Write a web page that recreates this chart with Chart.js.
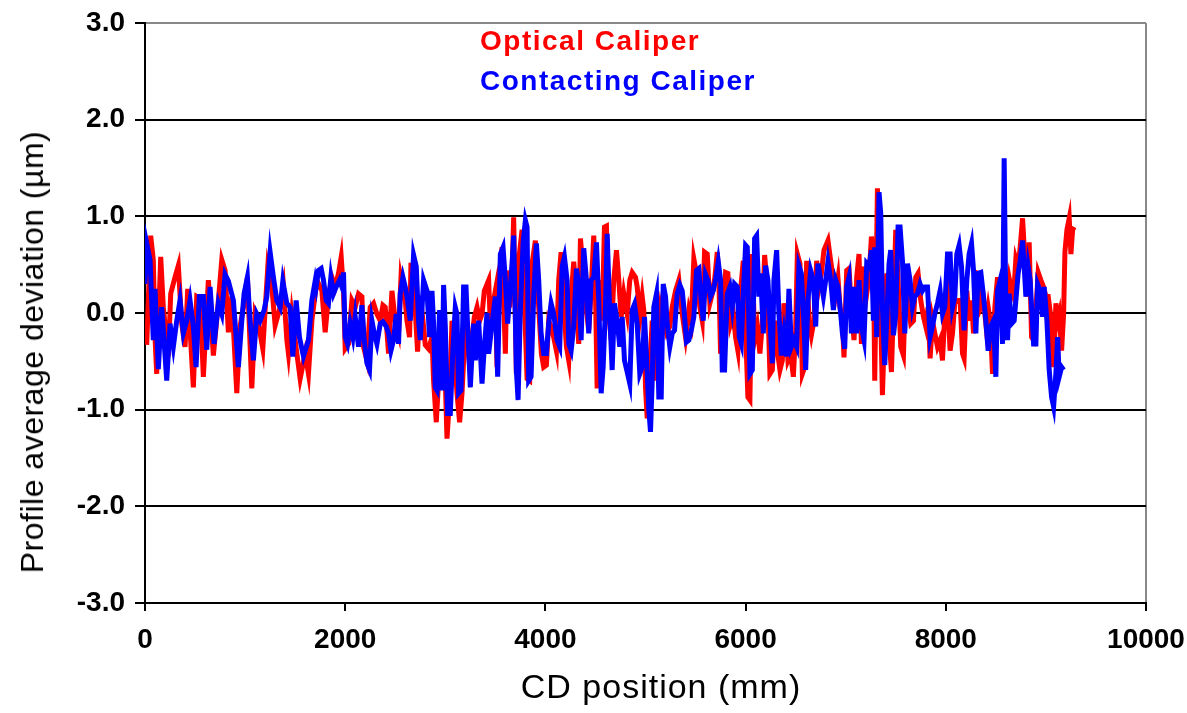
<!DOCTYPE html>
<html>
<head>
<meta charset="utf-8">
<script src="https://cdn.jsdelivr.net/npm/chart.js@4.4.1/dist/chart.umd.min.js"></script>
<style>
  body { margin: 0; background: #fff; }
  #wrap { position: relative; width: 1187px; height: 713px; font-family: "Liberation Sans", Arial, sans-serif; }
  #myChart { position: absolute; left: 0; top: 0; }
  .leg { position: absolute; left: 480px; font-size: 28px; line-height: 28px; font-weight: bold; letter-spacing: 1.5px; white-space: nowrap; }
  #ytitle { position: absolute; left: 32px; top: 352px; transform: translate(-50%, -50%) rotate(-90deg); font-size: 32px; line-height: 32px; letter-spacing: 0.5px; white-space: nowrap; }
  #xtitle { position: absolute; left: 661px; top: 669px; transform: translateX(-50%); font-size: 34px; line-height: 34px; letter-spacing: 1px; white-space: nowrap; }
</style>
</head>
<body>
<div id="wrap">
  <canvas id="myChart" width="1187" height="713"></canvas>
  <div class="leg" style="top:27px;color:#ff0000">Optical Caliper</div>
  <div class="leg" style="top:67px;color:#0000ff">Contacting Caliper</div>
  <div id="ytitle">Profile average deviation (µm)</div>
  <div id="xtitle">CD position (mm)</div>
</div>
<script>
// CD position (mm) and deviation (um)
var opticalX = [17,57,83,100,117,157,183,233,257,300,333,367,400,427,483,517,550,583,633,683,717,767,800,833,867,917,950,983,1023,1067,1100,1133,1177,1200,1227,1267,1300,1350,1383,1417,1433,1467,1517,1550,1600,1633,1667,
  1717,1767,1800,1833,1867,1900,1933,1960,1983,2000,2033,2067,2100,2133,2167,2183,2217,2250,2283,2317,2350,2377,2400,2433,2467,2500,2533,2557,2600,2617,2643,2657,2700,2723,2750,2783,2800,2833,2867,2883,2910,2933,2957,2977,3000,3017,3043,3067,3090,3117,3143,3167,3190,3217,3243,3267,3290,3317,3343,3367,3390,
  3433,3450,3477,3500,3517,3543,3567,3600,3617,3643,3667,3683,3710,3733,3767,3783,3817,3843,3867,3900,3933,3960,3983,4010,4033,4057,4083,4110,4133,4157,4183,4210,4233,4257,4283,4310,4333,4350,4383,4410,4433,4457,4483,4500,4517,4543,4567,4590,4610,4633,4657,4683,4710,4733,4757,4783,4817,4843,4867,4900,4917,4943,4967,4983,5000,5017,5043,5067,5090,
  5117,5150,5183,5210,5243,5267,5300,5333,5367,5400,5433,5457,5483,5517,5543,5567,5590,5617,5643,5667,5690,5717,5733,5750,5777,5800,5823,5850,5877,5900,5923,5950,5977,6000,6023,6043,6067,6090,6117,6143,6167,6190,6217,6243,6267,6290,6317,6343,6367,6383,6400,6423,6450,6477,6500,6517,6543,6567,6590,6610,6633,6657,6683,6710,6733,6757,6783,
  6823,6850,6877,6900,6923,6943,6967,6983,7010,7033,7057,7083,7110,7133,7157,7183,7210,7233,7257,7277,7290,7317,7333,7350,7367,7390,7410,7433,7457,7477,7500,7523,7550,7577,7600,7623,7650,7677,7700,7723,7750,7777,7800,7823,7843,7867,7890,7917,7943,7967,7990,8017,8043,8067,8090,8117,8143,8167,8183,8210,8233,8257,8277,8300,8323,8350,8377,8400,8423,8443,8467,8490,
  8517,8543,8567,8583,8610,8633,8657,8677,8700,8723,8743,8767,8783,8810,8833,8857,8877,8900,8923,8950,8977,9000,9023,9050,9077,9100,9117,9133,9157,9177,9190,9210,9233,9250,9267,9283]
var opticalY = [-0.33,0.80,0.55,-0.25,-0.63,0.58,0.06,-0.45,0.20,0.37,0.49,-0.11,-0.35,0.25,-0.77,0.17,0.15,-0.66,0.34,-0.44,-0.07,0.55,0.44,-0.20,0.17,-0.83,-0.14,0.06,0.37,-0.78,-0.01,-0.11,-0.37,0.03,0.48,0.27,-0.13,0.06,0.27,-0.28,-0.42,-0.01,-0.42,-0.68,-0.42,-0.63,-0.08,
  0.34,0.23,-0.20,0.17,0.37,0.27,0.41,0.58,0.23,-0.37,-0.32,0.13,0.06,0.20,0.17,-0.35,-0.49,0.06,0.10,-0.01,-0.08,0.08,0.06,-0.42,0.23,-0.08,-0.21,0.36,0.13,-0.08,-0.25,0.52,0.03,-0.40,0.18,-0.14,-0.33,-0.37,-0.25,-0.70,-1.13,-0.70,-0.21,-0.08,-0.70,-1.30,-0.87,-0.08,-0.42,-0.83,-1.13,-0.83,-0.35,-0.08,-0.56,-0.25,-0.04,0.06,-0.08,-0.01,0.23,
  0.34,-0.11,0.10,0.23,-0.56,0.44,0.68,-0.42,0.44,0.06,0.41,0.99,-0.63,0.54,0.86,0.34,-0.68,-0.70,0.51,0.75,0.06,-0.42,-0.56,-0.54,-0.08,-0.14,-0.25,-0.39,0.34,0.63,0.10,-0.35,-0.49,0.17,0.53,0.13,-0.32,0.77,0.37,0.03,-0.18,0.23,0.80,0.23,-0.78,0.34,-0.08,0.89,0.90,-0.01,-0.28,0.34,0.65,0.34,-0.04,0.20,-0.01,0.34,0.42,0.37,0.27,-0.04,0.17,0.03,-0.77,-1.09,-0.56,-0.08,-0.70,
  -0.28,0.06,-0.11,-0.21,-0.14,0.06,0.23,0.34,-0.01,-0.25,0.03,-0.08,0.56,0.37,0.06,-0.08,0.63,0.61,0.10,0.20,0.34,0.63,0.34,-0.42,-0.04,0.42,0.41,-0.11,-0.01,-0.25,-0.39,0.23,0.54,-0.18,-0.87,-0.90,0.61,-0.28,-0.14,-0.42,-0.11,0.60,0.27,-0.63,-0.59,-0.08,-0.39,-0.59,-0.49,0.10,-0.11,-0.49,-0.42,-0.66,-0.18,0.61,0.51,-0.63,-0.56,0.54,-0.08,-0.23,-0.08,0.54,0.27,0.41,0.65,
  0.75,0.54,0.34,0.20,0.36,0.06,-0.08,-0.46,0.44,0.46,0.06,-0.28,0.37,0.61,-0.32,0.48,0.20,0.37,0.79,0.61,-0.70,1.29,0.61,-0.04,-0.85,-0.08,0.41,-0.25,-0.61,0.06,0.86,0.34,-0.35,-0.44,0.37,0.10,-0.11,-0.08,0.37,0.41,0.13,-0.04,-0.14,0.06,-0.47,-0.08,-0.21,-0.35,-0.28,-0.49,-0.01,0.17,-0.39,-0.21,0.10,0.13,0.13,-0.42,-0.47,0.23,-0.08,0.13,-0.21,0.42,0.41,0.06,0.13,-0.11,0.06,-0.08,-0.63,0.06,
  0.37,-0.01,-0.08,0.34,0.17,0.36,0.23,0.17,0.56,0.48,0.68,0.98,0.68,0.17,0.73,-0.25,-0.28,0.03,0.42,0.34,0.27,0.17,0.17,-0.04,-0.56,0.10,-0.08,-0.01,-0.39,-0.01,0.63,0.86,0.98,0.61,0.86,0.89]

var contactX = [0,17,50,83,100,133,167,190,217,250,283,317,350,383,417,450,483,510,543,583,617,650,690,733,767,800,833,883,933,967,990,1023,1050,1083,1117,1150,1190,1217,1250,1283,1317,1350,1377,1417,1450,1477,1510,1543,1583,1633,1667,1700,
  1710,1733,1760,1783,1810,1833,1857,1883,1910,1943,1967,1983,2000,2023,2050,2077,2100,2133,2167,2190,2217,2243,2267,2290,2317,2350,2377,2410,2433,2457,2483,2510,2533,2550,2577,2600,2617,2650,2683,2710,2733,2750,2783,2817,2843,2867,2883,2900,2917,2943,2967,2983,3000,3023,3050,3077,3100,3117,3133,3157,3183,3207,3223,3250,3283,3300,3333,3367,3390,
  3417,3433,3467,3500,3523,3550,3577,3600,3623,3643,3667,3683,3710,3727,3750,3777,3800,3817,3833,3857,3883,3910,3933,3957,3983,4010,4033,4057,4083,4117,4143,4167,4190,4217,4233,4257,4283,4310,4333,4357,4383,4410,4433,4457,4483,4510,4533,4557,4577,4600,4617,4643,4667,4690,4717,4743,4767,4790,4817,4843,4867,4890,4917,4943,4967,4990,5010,5033,5050,5067,5083,
  5110,5133,5157,5177,5200,5217,5243,5267,5290,5317,5343,5367,5383,5410,5433,5457,5483,5510,5533,5550,5577,5600,5623,5650,5677,5700,5727,5750,5767,5790,5817,5843,5867,5890,5917,5937,5957,5977,6000,6017,6043,6067,6090,6110,6133,6150,6177,6200,6223,6243,6267,6283,6310,6333,6357,6383,6410,6433,6457,6483,6510,6533,6557,6583,6600,6623,6650,6677,6700,6723,6750,6777,6800,
  6823,6850,6877,6900,6923,6950,6967,6990,7010,7033,7057,7083,7110,7133,7157,7183,7210,7233,7257,7277,7290,7310,7333,7350,7367,7390,7410,7433,7450,7477,7500,7523,7543,7567,7590,7617,7643,7667,7690,7717,7743,7767,7790,7817,7843,7867,7890,7917,7943,7967,7990,8017,8043,8067,8090,8110,8133,8157,8183,8210,8233,8257,8277,8300,8323,8350,8377,8400,8423,8450,8477,8500,
  8517,8543,8567,8583,8600,8617,8633,8657,8683,8700,8723,8743,8767,8783,8800,8823,8843,8857,8877,8900,8917,8943,8967,8983,9010,9033,9057,9077,9100,9117,9133,9157,9177]
var contactY = [0.30,0.72,0.55,-0.28,0.25,-0.58,0.06,-0.28,-0.70,-0.11,-0.35,-0.08,0.13,-0.21,-0.08,0.13,-0.14,-0.56,0.17,0.17,-0.38,0.27,-0.32,0.10,-0.01,0.40,0.33,0.13,-0.56,-0.08,0.20,0.37,-0.08,-0.49,-0.01,-0.08,0.03,0.17,0.63,0.37,0.13,0.06,0.33,0.10,0.06,-0.45,0.13,-0.25,-0.45,-0.28,0.13,0.33,
  0.27,0.44,0.46,0.34,0.13,0.10,0.37,0.20,0.27,0.34,0.27,0.42,-0.25,-0.32,-0.11,-0.25,-0.04,-0.35,0.08,-0.28,-0.52,-0.59,-0.08,-0.21,-0.32,-0.11,-0.09,-0.14,-0.21,-0.39,-0.28,-0.01,-0.32,0.20,0.37,0.27,0.17,-0.08,0.60,0.48,-0.08,-0.28,0.34,0.23,-0.25,0.23,-0.11,-0.77,-0.80,0.03,-0.80,0.29,-0.14,-1.04,-1.04,-0.35,0.06,-0.01,-0.83,-0.80,0.27,0.27,-0.14,-0.77,-0.11,-0.49,-0.08,-0.73,-0.35,
  0.00,-0.42,-0.11,0.17,-0.66,0.61,0.68,0.34,-0.11,0.18,0.51,0.80,-0.59,-0.90,0.03,0.72,0.96,0.89,-0.70,-0.66,0.17,0.72,0.34,-0.21,-0.42,-0.42,-0.11,0.10,-0.01,-0.28,-0.35,0.48,0.58,0.34,-0.32,-0.39,-0.14,0.46,0.30,-0.28,0.67,0.34,-0.21,0.34,0.37,0.73,0.13,-0.83,-0.56,0.06,0.82,-0.01,-0.59,0.10,-0.08,-0.35,-0.04,-0.49,-0.61,-0.73,0.03,0.09,-0.11,-0.63,-0.56,-0.04,-0.45,-1.00,-1.23,-0.70,0.06,
  0.20,-0.87,-0.87,0.30,0.17,-0.11,-0.35,-0.21,-0.18,0.20,0.29,0.23,0.06,-0.30,-0.28,-0.18,-0.04,0.44,0.46,0.20,-0.08,0.40,0.34,0.17,0.23,0.34,0.53,0.34,-0.59,-0.59,0.20,0.27,0.06,0.30,0.27,-0.25,-0.32,0.20,0.70,0.68,-0.63,-0.59,0.77,0.80,0.17,0.41,-0.21,0.49,0.34,-0.08,-0.52,0.34,0.65,-0.01,-0.44,-0.21,-0.45,0.25,-0.35,-0.28,-0.35,0.49,0.41,-0.11,-0.59,0.13,0.44,0.34,-0.14,0.51,0.34,0.17,0.34,
  0.53,0.34,0.03,0.34,0.27,-0.01,-0.21,-0.37,0.27,0.37,-0.21,0.27,-0.21,0.34,-0.14,-0.28,0.51,0.48,0.65,-0.08,0.68,-0.25,1.25,1.03,0.06,-0.54,-0.08,0.51,0.65,-0.23,-0.01,0.89,0.89,0.54,-0.21,0.51,0.34,0.06,0.17,0.20,0.30,0.23,0.27,0.27,-0.25,-0.14,-0.01,0.10,0.23,-0.01,0.06,0.61,0.61,0.06,0.17,0.61,0.70,0.48,-0.18,0.34,0.61,0.72,0.44,-0.21,0.41,0.42,0.17,-0.08,-0.39,-0.14,-0.08,-0.66,
  0.23,0.34,-0.32,1.60,-0.01,-0.28,0.20,-0.11,-0.08,0.13,0.41,0.54,0.75,0.48,0.17,0.48,0.34,0.06,-0.32,-0.32,0.30,0.23,-0.04,0.27,-0.08,-0.59,-0.87,-0.97,-0.62,-0.25,-0.66,-0.56,-0.59]

var xTicks = [0, 2000, 4000, 6000, 8000, 10000]
var yTicks = [-3, -2, -1, 0, 1, 2, 3]

function pts(xs, ys) {
  var out = []
  for (var i = 0; i < xs.length; i++) out.push({ x: xs[i], y: ys[i] })
  return out
}

var tickFont = { family: "'Liberation Sans', Arial, sans-serif", size: 28, weight: 'bold' }

var ctx = document.getElementById('myChart').getContext('2d')
var chart = new Chart(ctx, {
  type: 'line',
  data: {
    datasets: [
      { label: 'Optical Caliper', data: pts(opticalX, opticalY), borderColor: '#ff0000', borderWidth: 5, pointRadius: 0, tension: 0, order: 1 },
      { label: 'Contacting Caliper', data: pts(contactX, contactY), borderColor: '#0000ff', borderWidth: 5, pointRadius: 0, tension: 0, order: 0 }
    ]
  },
  options: {
    responsive: false,
    animation: false,
    layout: { padding: { top: 23, right: 41, left: 0, bottom: 0 } },
    plugins: { legend: { display: false }, tooltip: { enabled: false } },
    scales: {
      x: {
        type: 'linear',
        min: xTicks[0],
        max: xTicks[xTicks.length - 1],
        afterBuildTicks: function (s) { s.ticks = xTicks.map(function (v) { return { value: v } }) },
        afterFit: function (s) { s.height = 110; s.paddingLeft = 0; s.paddingRight = 0 },
        border: { color: '#000', width: 2 },
        grid: {
          color: function (c) { return c.tick && c.tick.value === 10000 ? '#888' : 'rgba(0,0,0,0)' },
          lineWidth: 2,
          tickColor: '#000',
          tickWidth: 2,
          tickLength: 8
        },
        ticks: { color: '#000', font: tickFont, padding: 12, maxRotation: 0, callback: function (v) { return String(v) } }
      },
      y: {
        min: yTicks[0],
        max: yTicks[yTicks.length - 1],
        afterBuildTicks: function (s) { s.ticks = yTicks.map(function (v) { return { value: v } }) },
        afterFit: function (s) { s.width = 145; s.paddingTop = 0; s.paddingBottom = 0 },
        border: { color: '#000', width: 2 },
        grid: {
          color: function (c) { return c.tick && c.tick.value === 3 ? '#888' : '#000' },
          lineWidth: 2,
          tickColor: '#000',
          tickWidth: 2,
          tickLength: 10
        },
        ticks: { color: '#000', font: tickFont, padding: 10, callback: function (v) { return Number(v).toFixed(1) } }
      }
    }
  }
})
</script>
</body>
</html>
